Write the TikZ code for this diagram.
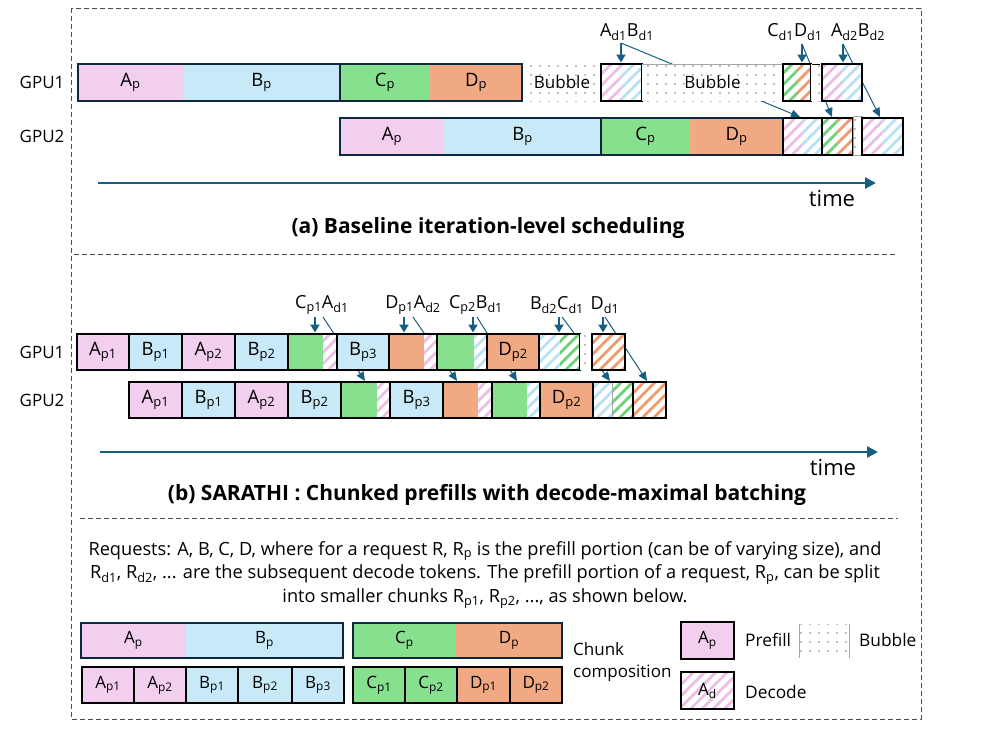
\documentclass[tikz,border=0pt]{standalone}
\usepackage{fontspec}
\setmainfont{Open Sans}
\usetikzlibrary{patterns.meta,arrows.meta}
\definecolor{pinkc}{RGB}{242,207,238}
\definecolor{bluec}{RGB}{200,233,248}
\definecolor{greenc}{RGB}{134,224,142}
\definecolor{orangec}{RGB}{241,169,131}
\definecolor{hpink}{RGB}{236,190,230}
\definecolor{hblue}{RGB}{185,225,245}
\definecolor{hgreen}{RGB}{110,210,120}
\definecolor{horange}{RGB}{238,155,110}
\definecolor{navy}{RGB}{14,40,65}
\definecolor{arrc}{RGB}{21,96,130}
\definecolor{dotc}{RGB}{130,130,130}
\definecolor{framec}{RGB}{80,80,80}
\tikzset{
  cellbase/.style={inner sep=0pt,outer sep=0pt,draw=none,font=\fontsize{18.5}{20}\selectfont},
  hatch/.style={preaction={fill=white},pattern={Lines[angle=45,distance=8pt,line width=2.8pt]},pattern color=#1},
  bubble/.style={preaction={fill=white},pattern={Dots[distance=9pt,radius=0.8pt]},pattern color=dotc},
  boxline/.style={draw=black,line width=2.6pt},
  boxnavy/.style={draw=navy,line width=2.6pt},
  tarrow/.style={draw=arrc,line width=2.4pt,-{Triangle[length=8pt,width=9pt]}},
  narrow/.style={draw=arrc,line width=1pt,-{Triangle[length=9pt,width=8pt]}},
  timearrow/.style={draw=arrc,line width=2.6pt,-{Triangle[length=11pt,width=11pt]}},
  lab/.style={inner sep=0pt,font=\fontsize{18}{20}\selectfont},
  gpu/.style={inner sep=0pt,font=\fontsize{17}{18}\selectfont},
  small/.style={font=\fontsize{17}{18}\selectfont},
  leglab/.style={inner sep=0pt,anchor=west,font=\fontsize{17.3}{20}\selectfont},
  caption/.style={inner sep=0pt,font=\fontsize{21}{24}\selectfont\bfseries},
  timelab/.style={inner sep=0pt,font=\fontsize{22}{24}\selectfont},
  frameline/.style={draw=framec,line width=1pt,dash pattern=on 5pt off 3pt},
  thingray/.style={draw=gray!70,line width=0.7pt},
}
\newcommand\gcell[7]{\node[cellbase,#6,minimum width={(#3-#2)*1pt},minimum height={(#5-#4)*1pt}] (#1) at ({(#2+#3)/2},{(#4+#5)/2}) {#7};}
\newcommand\sbs[1]{\textsubscript{#1}}
\begin{document}
\begin{tikzpicture}[x=1pt,y=-1pt]
\useasboundingbox (0,0) rectangle (996,732);
% frame
\coordinate (fr1) at (71,8); \coordinate (fr2) at (921,719);
\draw[frameline] (fr1) rectangle (fr2);
\coordinate (s1a) at (74,254); \coordinate (s1b) at (897,254);
\coordinate (s2a) at (80,518); \coordinate (s2b) at (898,518);
\draw[frameline] (s1a) -- (s1b);
\draw[frameline] (s2a) -- (s2b);

%%%%%%%%%%%%%%%% (a)
\node[gpu] (ga1) at (42,82) {GPU1};
\node[gpu] (ga2) at (42,136) {GPU2};
% GPU2 row
\gcell{a2A}{340}{444}{118}{155}{fill=pinkc}{A\sbs{p}}
\gcell{a2B}{444}{601}{118}{155}{fill=bluec}{B\sbs{p}}
\draw[boxnavy] (a2A.north west) rectangle (a2B.south east);
\gcell{a2C}{601}{690}{118}{155}{fill=greenc}{C\sbs{p}}
\gcell{a2D}{690}{783}{118}{155}{fill=orangec}{D\sbs{p}}
\draw[boxnavy] (a2C.north west) rectangle (a2D.south east);
\gcell{a2ABl}{783}{802.5}{118}{155}{hatch=hpink}{}
\gcell{a2ABr}{802.5}{822}{118}{155}{hatch=hblue}{}
\draw[boxline] (a2ABl.north west) rectangle (a2ABr.south east);
\gcell{a2CDl}{822}{837.5}{118}{155}{hatch=hgreen}{}
\gcell{a2CDr}{837.5}{853}{118}{155}{hatch=horange}{}
\draw[boxline] (a2CDl.north west) rectangle (a2CDr.south east);
\gcell{a2bub}{853}{862}{116}{155}{bubble,thingray}{}
\gcell{a2AB2l}{862}{882.5}{118}{155}{hatch=hpink}{}
\gcell{a2AB2r}{882.5}{903}{118}{155}{hatch=hblue}{}
\draw[boxline] (a2AB2l.north west) rectangle (a2AB2r.south east);
% thin connectors (a)
\coordinate (pAB1) at (621,43);
\coordinate (pCD1) at (802,44);
\coordinate (pAB2) at (843,44);
\coordinate (qAB1) at (800,117);
\coordinate (qCD1) at (832,117);
\coordinate (qAB2) at (880,117);
\draw[narrow] (pAB1) -- (qAB1);
\draw[narrow] (pCD1) -- (qCD1);
\draw[narrow] (pAB2) -- (qAB2);
% GPU1 row
\gcell{a1A}{78}{183}{64}{101}{fill=pinkc}{A\sbs{p}}
\gcell{a1B}{183}{340}{64}{101}{fill=bluec}{B\sbs{p}}
\draw[boxnavy] (a1A.north west) rectangle (a1B.south east);
\gcell{a1C}{340}{430}{64}{101}{fill=greenc}{C\sbs{p}}
\gcell{a1D}{430}{522}{64}{101}{fill=orangec}{D\sbs{p}}
\draw[boxnavy] (a1C.north west) rectangle (a1D.south east);
\gcell{a1bub1}{523}{601}{64}{101}{bubble,small}{Bubble}
\gcell{a1ABl}{601}{621.5}{64}{101}{hatch=hpink}{}
\gcell{a1ABr}{621.5}{642}{64}{101}{hatch=hblue}{}
\draw[boxline] (a1ABl.north west) rectangle (a1ABr.south east);
\gcell{a1bub2}{642}{783}{64}{101}{bubble,small}{Bubble}
\draw[thingray] (a1bub2.north west) -- (a1bub2.north east);
\gcell{a1CDl}{783}{797}{64}{101}{hatch=hgreen}{}
\gcell{a1CDr}{797}{811}{64}{101}{hatch=horange}{}
\draw[boxline] (a1CDl.north west) rectangle (a1CDr.south east);
\gcell{a1bub3}{811}{822}{64}{101}{bubble}{}
\draw[draw=black,line width=1pt] ([xshift=1pt]a1bub3.north west) -- ([xshift=-2pt]a1bub3.north east);
\gcell{a1AB2l}{822}{842}{64}{101}{hatch=hpink}{}
\gcell{a1AB2r}{842}{862}{64}{101}{hatch=hblue}{}
\draw[boxline] (a1AB2l.north west) rectangle (a1AB2r.south east);
% thick arrows (a)
\draw[tarrow] (pAB1) -- ([yshift=1.5pt]pAB1 |- a1ABl.north);
\draw[tarrow] (pCD1) -- ([yshift=1.5pt]pCD1 |- a1CDl.north);
\draw[tarrow] (pAB2) -- ([yshift=1.5pt]pAB2 |- a1AB2l.north);
% labels (a)
\node[lab] (lAB1) at (627,32) {A\sbs{d1}B\sbs{d1}};
\node[lab] (lCD1) at (795,32) {C\sbs{d1}D\sbs{d1}};
\node[lab] (lAB2) at (858,32) {A\sbs{d2}B\sbs{d2}};
% time (a)
\coordinate (ta0) at (98,183); \coordinate (ta1) at (876,183);
\draw[timearrow] (ta0) -- (ta1);
\node[timelab] (tla) at (832,199) {time};
\node[caption] (capa) at (488,228) {(a) Baseline iteration-level scheduling};

%%%%%%%%%%%%%%%% (b)
\node[gpu] (gb1) at (42,352) {GPU1};
\node[gpu] (gb2) at (42,400) {GPU2};
% GPU2 row
\gcell{b2A1}{129}{182}{382}{418}{fill=pinkc,boxline}{A\sbs{p1}}
\gcell{b2B1}{182}{235}{382}{418}{fill=bluec,boxline}{B\sbs{p1}}
\gcell{b2A2}{235}{288}{382}{418}{fill=pinkc,boxline}{A\sbs{p2}}
\gcell{b2B2}{288}{341}{382}{418}{fill=bluec,boxline}{B\sbs{p2}}
\gcell{b2C1g}{341}{377}{382}{418}{fill=greenc}{}
\gcell{b2C1h}{377}{390}{382}{418}{hatch=hpink}{}
\draw[boxline] (b2C1g.north west) rectangle (b2C1h.south east);
\gcell{b2B3}{390}{443}{382}{418}{fill=bluec,boxline}{B\sbs{p3}}
\gcell{b2D1g}{443}{478}{382}{418}{fill=orangec}{}
\gcell{b2D1h}{478}{492}{382}{418}{hatch=hpink}{}
\draw[boxline] (b2D1g.north west) rectangle (b2D1h.south east);
\gcell{b2C2g}{492}{527}{382}{418}{fill=greenc}{}
\gcell{b2C2h}{527}{540}{382}{418}{hatch=hblue}{}
\draw[boxline] (b2C2g.north west) rectangle (b2C2h.south east);
\gcell{b2D2}{540}{593}{382}{418}{fill=orangec,boxline}{D\sbs{p2}}
\gcell{b2BCl}{593}{612}{382}{418}{hatch=hblue}{}
\gcell{b2BCr}{612}{633}{382}{418}{hatch=hgreen}{}
\draw[thingray] (b2BCl.north east) -- (b2BCl.south east);
\draw[boxline] (b2BCl.north west) rectangle (b2BCr.south east);
\gcell{b2Dd}{633}{666}{382}{418}{hatch=horange,boxline}{}
% thin connectors (b)
\coordinate (pb1) at (323,317); \coordinate (qb1) at (365,381);
\coordinate (pb2) at (413,317); \coordinate (qb2) at (457,381);
\coordinate (pb3) at (477,317); \coordinate (qb3) at (517,381);
\coordinate (pb4) at (562,317); \coordinate (qb4) at (610,381);
\coordinate (pb5) at (605,317); \coordinate (qb5) at (647,381);
\draw[narrow] (pb1) -- (qb1);
\draw[narrow] (pb2) -- (qb2);
\draw[narrow] (pb3) -- (qb3);
\draw[narrow] (pb4) -- (qb4);
\draw[narrow] (pb5) -- (qb5);
% GPU1 row
\gcell{b1A1}{77}{129}{334}{370}{fill=pinkc,boxline}{A\sbs{p1}}
\gcell{b1B1}{129}{182}{334}{370}{fill=bluec,boxline}{B\sbs{p1}}
\gcell{b1A2}{182}{235}{334}{370}{fill=pinkc,boxline}{A\sbs{p2}}
\gcell{b1B2}{235}{288}{334}{370}{fill=bluec,boxline}{B\sbs{p2}}
\gcell{b1C1g}{288}{323}{334}{370}{fill=greenc}{}
\gcell{b1C1h}{323}{337}{334}{370}{hatch=hpink}{}
\draw[boxline] (b1C1g.north west) rectangle (b1C1h.south east);
\gcell{b1B3}{337}{389}{334}{370}{fill=bluec,boxline}{B\sbs{p3}}
\gcell{b1D1g}{389}{424}{334}{370}{fill=orangec}{}
\gcell{b1D1h}{424}{437}{334}{370}{hatch=hpink}{}
\draw[boxline] (b1D1g.north west) rectangle (b1D1h.south east);
\gcell{b1C2g}{437}{474}{334}{370}{fill=greenc}{}
\gcell{b1C2h}{474}{487}{334}{370}{hatch=hblue}{}
\draw[boxline] (b1C2g.north west) rectangle (b1C2h.south east);
\gcell{b1D2}{487}{539}{334}{370}{fill=orangec,boxline}{D\sbs{p2}}
\gcell{b1BCl}{539}{560}{334}{370}{hatch=hblue}{}
\gcell{b1BCr}{560}{580}{334}{370}{hatch=hgreen}{}
\draw[boxline] (b1BCl.north west) rectangle (b1BCr.south east);
\gcell{b1bub}{580}{592}{334}{370}{bubble}{}
\gcell{b1Dd}{592}{625}{334}{370}{hatch=horange,boxline}{}
% thick arrows (b)
\coordinate (rb1) at (315,317);
\coordinate (rb2) at (404,317);
\coordinate (rb3) at (473,317);
\coordinate (rb4) at (559,317);
\coordinate (rb5) at (603,317);
\draw[tarrow] (rb1) -- ([yshift=1.5pt]rb1 |- b1C1g.north);
\draw[tarrow] (rb2) -- ([yshift=1.5pt]rb2 |- b1D1g.north);
\draw[tarrow] (rb3) -- ([yshift=1.5pt]rb3 |- b1C2g.north);
\draw[tarrow] (rb4) -- ([yshift=1.5pt]rb4 |- b1BCl.north);
\draw[tarrow] (rb5) -- ([yshift=1.5pt]rb5 |- b1Dd.north);
% labels (b)
\node[lab] (lb1) at (322,305) {C\sbs{p1}A\sbs{d1}};
\node[lab] (lb2) at (413,305) {D\sbs{p1}A\sbs{d2}};
\node[lab] (lb3) at (476,305) {C\sbs{p2}B\sbs{d1}};
\node[lab] (lb4) at (557,305) {B\sbs{d2}C\sbs{d1}};
\node[lab] (lb5) at (605,305) {D\sbs{d1}};
% time (b)
\coordinate (tb0) at (100,452); \coordinate (tb1) at (878,452);
\draw[timearrow] (tb0) -- (tb1);
\node[timelab] (tlb) at (833,468) {time};
\node[caption] (capb) at (487,495) {(b) SARATHI : Chunked prefills with decode-maximal batching};

%%%%%%%%%%%%%%%% legend
\node[inner sep=0pt,align=center,font=\fontsize{18.2}{23.5}\selectfont] (desc) at (485,575)
 {Requests: A, B, C, D, where for a request R, R\sbs{p} is the prefill portion (can be of varying size), and\\
  R\sbs{d1}, R\sbs{d2}, ... are the subsequent decode tokens. The prefill portion of a request, R\sbs{p}, can be split\\
  into smaller chunks R\sbs{p1}, R\sbs{p2}, ..., as shown below.};
\gcell{cA}{81}{186}{623}{658}{fill=pinkc,small}{A\sbs{p}}
\gcell{cB}{186}{343}{623}{658}{fill=bluec,small}{B\sbs{p}}
\draw[boxnavy] (cA.north west) rectangle (cB.south east);
\gcell{cC}{353}{456}{623}{658}{fill=greenc,small}{C\sbs{p}}
\gcell{cD}{456}{562}{623}{658}{fill=orangec,small}{D\sbs{p}}
\draw[boxnavy] (cC.north west) rectangle (cD.south east);
\gcell{cA1}{82}{134}{667}{703}{fill=pinkc,boxline,small}{A\sbs{p1}}
\gcell{cA2}{134}{186}{667}{703}{fill=pinkc,boxline,small}{A\sbs{p2}}
\gcell{cB1}{186}{238}{667}{703}{fill=bluec,boxline,small}{B\sbs{p1}}
\gcell{cB2}{238}{292}{667}{703}{fill=bluec,boxline,small}{B\sbs{p2}}
\gcell{cB3}{292}{344}{667}{703}{fill=bluec,boxline,small}{B\sbs{p3}}
\gcell{cC1}{353}{405}{667}{703}{fill=greenc,boxline,small}{C\sbs{p1}}
\gcell{cC2}{405}{457}{667}{703}{fill=greenc,boxline,small}{C\sbs{p2}}
\gcell{cD1}{457}{510}{667}{703}{fill=orangec,boxline,small}{D\sbs{p1}}
\gcell{cD2}{510}{562}{667}{703}{fill=orangec,boxline,small}{D\sbs{p2}}
\node[leglab,align=left,font=\fontsize{17}{22}\selectfont] (chunk) at (573,662) {Chunk\\composition};
\gcell{lgP}{681}{734}{622}{659}{fill=pinkc,boxline,small}{A\sbs{p}}
\node[leglab] (lgPt) at (745,640) {Prefill};
\gcell{lgB}{799}{849}{624}{658}{bubble}{}
\draw[thingray] (lgB.north west) -- (lgB.south west);
\draw[thingray] (lgB.north east) -- (lgB.south east);
\node[leglab] (lgBt) at (859,640) {Bubble};
\gcell{lgD}{681}{734}{672}{709}{hatch=hpink,boxline,small}{A\sbs{d}}
\node[leglab] (lgDt) at (745,692) {Decode};
\end{tikzpicture}
\end{document}
